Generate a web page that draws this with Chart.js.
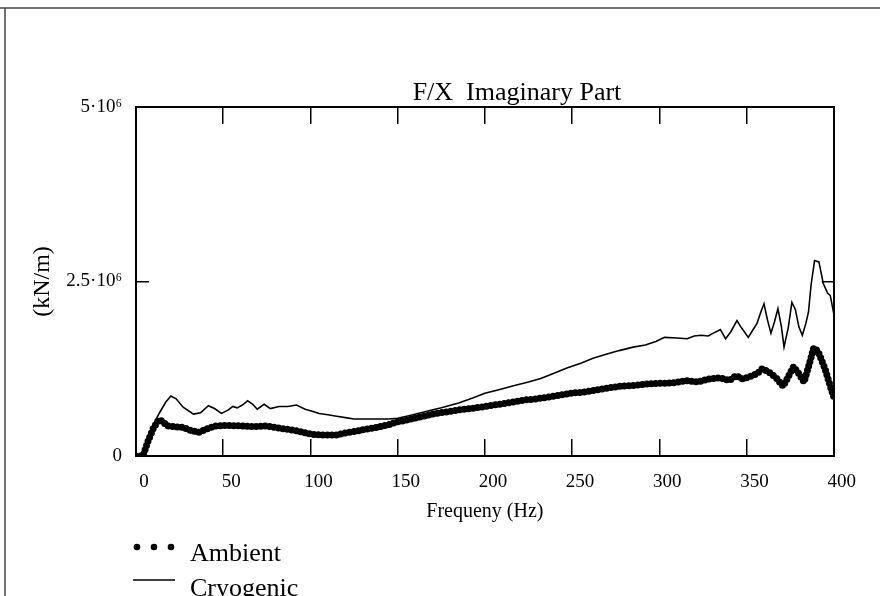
<!DOCTYPE html>
<html><head><meta charset="utf-8">
<script src="https://cdn.jsdelivr.net/npm/chart.js@4/dist/chart.umd.min.js"></script>
<style>html,body{margin:0;padding:0;background:#fff}#wrap{width:880px;height:596px;position:relative}</style>
</head><body><div id="wrap"><canvas id="c" width="880" height="596"></canvas></div>
<script>
const chartTitle = 'F/X  Imaginary Part';
const xAxisTitle = 'Frequeny (Hz)';
const yAxisTitle = '(kN/m)';
const legendLabels = ['Ambient', 'Cryogenic'];
const xTickStep = 50;
const xMin = 0, xMax = 400;
const yTickValues = [0, 2.5, 5];
const yTickLabels = ['0', '2.5·10⁶', '5·10⁶'];

// Ambient (thick dotted curve), values in units of 10^6 kN/m
const ambientFreq = [0, 4, 7, 10, 13, 15, 18, 22, 27, 31, 36, 40, 45, 52, 60, 68, 75, 82, 90, 96, 101, 108, 115, 120, 127, 133, 138, 145, 150, 158, 165, 172, 180, 188, 195, 200, 208, 215, 222, 230, 238, 245, 250, 258, 265, 272, 278, 285, 292, 300, 308, 316, 322, 328, 335, 340, 344, 348, 352, 356, 359, 363, 367, 371, 374, 377, 380, 383, 386, 388.5, 391, 395, 398, 400];
const ambientVal = [0, 0, 0.22, 0.40, 0.52, 0.50, 0.43, 0.42, 0.41, 0.37, 0.34, 0.38, 0.43, 0.44, 0.43, 0.42, 0.43, 0.40, 0.37, 0.34, 0.31, 0.30, 0.30, 0.33, 0.36, 0.39, 0.41, 0.45, 0.49, 0.53, 0.57, 0.61, 0.64, 0.67, 0.69, 0.71, 0.74, 0.77, 0.80, 0.82, 0.85, 0.88, 0.90, 0.92, 0.95, 0.98, 1.00, 1.01, 1.03, 1.04, 1.05, 1.08, 1.06, 1.10, 1.12, 1.08, 1.15, 1.10, 1.14, 1.18, 1.25, 1.20, 1.12, 1.00, 1.14, 1.28, 1.18, 1.06, 1.32, 1.55, 1.50, 1.25, 1.00, 0.85];

// Cryogenic (thin solid curve)
const cryoFreq = [0, 4, 7, 10, 13.5, 17, 20, 23, 27, 33, 37, 41.5, 45, 49, 53, 55.5, 58, 61, 64, 67, 69.5, 73.5, 77, 82, 87, 92, 97, 101, 105, 110, 115, 120, 125, 135, 145, 150, 157, 165, 175, 185, 193, 200, 208, 217, 225, 232, 240, 247, 255, 262, 270, 277, 285, 292, 298, 303, 310, 316, 320, 324, 328, 331, 335, 338, 341, 344.5, 347, 351, 353, 356, 358, 360, 362, 364, 366, 368, 370, 371.5, 374, 376, 378, 380, 382, 384, 385.5, 387, 389, 391.5, 394, 396.5, 398, 400];
const cryoVal = [0, 0, 0.25, 0.45, 0.62, 0.77, 0.86, 0.82, 0.70, 0.60, 0.62, 0.72, 0.68, 0.61, 0.66, 0.71, 0.69, 0.73, 0.79, 0.74, 0.67, 0.74, 0.68, 0.71, 0.71, 0.73, 0.67, 0.64, 0.61, 0.59, 0.57, 0.55, 0.53, 0.53, 0.53, 0.54, 0.58, 0.63, 0.69, 0.76, 0.83, 0.90, 0.95, 1.01, 1.06, 1.11, 1.19, 1.26, 1.33, 1.40, 1.46, 1.51, 1.56, 1.59, 1.64, 1.70, 1.69, 1.68, 1.72, 1.73, 1.72, 1.76, 1.81, 1.68, 1.78, 1.94, 1.84, 1.70, 1.78, 1.90, 2.05, 2.18, 1.95, 1.76, 1.92, 2.11, 1.85, 1.56, 1.85, 2.20, 2.10, 1.85, 1.73, 1.90, 2.06, 2.45, 2.80, 2.78, 2.47, 2.33, 2.30, 2.04];

const SERIF = '"Liberation Serif", "Times New Roman", serif';
const toPoints = (xs, ys) => xs.map((x, i) => ({x: x, y: ys[i]}));
const setYTicks = s => { s.ticks = yTickValues.map(v => ({value: v})); };

const framePlugin = {
  id: 'frame',
  beforeDraw(chart) {
    const c = chart.ctx;
    c.save();
    c.fillStyle = '#fff';
    c.fillRect(0, 0, chart.width, chart.height);
    c.strokeStyle = '#444';
    c.lineWidth = 1.5;
    c.beginPath();
    c.moveTo(0, 8); c.lineTo(880, 8);
    c.moveTo(5, 8); c.lineTo(5, 596);
    c.stroke();
    c.restore();
  },
  afterDraw(chart) {
    const c = chart.ctx;
    c.save();
    c.fillStyle = '#000';
    c.strokeStyle = '#000';
    // title
    c.font = '26px ' + SERIF;
    c.textAlign = 'center';
    c.textBaseline = 'alphabetic';
    c.fillText(chartTitle, 517, 100);
    // legend
    c.textAlign = 'left';
    c.font = '26px ' + SERIF;
    [137, 154, 171].forEach(x => { c.beginPath(); c.arc(x, 547, 3.3, 0, Math.PI * 2); c.fill(); });
    c.fillText(legendLabels[0], 190, 561);
    c.lineWidth = 1.5;
    c.beginPath(); c.moveTo(133, 580); c.lineTo(175, 580); c.stroke();
    c.fillText(legendLabels[1], 190, 596);
    c.restore();
  }
};

const tickGrid = (len) => ({drawOnChartArea: false, drawTicks: true, tickLength: len, color: '#000', lineWidth: 1.5});
const axisBorder = {display: true, color: '#000', width: 2};

new Chart(document.getElementById('c'), {
  type: 'line',
  data: {
    datasets: [
      {label: legendLabels[0], data: toPoints(ambientFreq, ambientVal), borderColor: '#000', borderWidth: 7,
       borderDash: [0, 4.5], borderCapStyle: 'round', borderJoinStyle: 'round', pointRadius: 0, tension: 0, fill: false},
      {label: legendLabels[1], data: toPoints(cryoFreq, cryoVal), borderColor: '#000', borderWidth: 1.6,
       pointRadius: 0, tension: 0, fill: false}
    ]
  },
  options: {
    responsive: false,
    animation: false,
    devicePixelRatio: 1,
    layout: {padding: 0},
    plugins: {legend: {display: false}, title: {display: false}, tooltip: {enabled: false}},
    scales: {
      x: {
        type: 'linear', position: 'bottom', min: xMin, max: xMax,
        ticks: {stepSize: xTickStep, padding: 32, labelOffset: 8, color: '#000', maxRotation: 0, autoSkip: false,
                font: {family: SERIF, size: 19}},
        grid: tickGrid(-17), border: axisBorder,
        title: {display: true, text: xAxisTitle, color: '#000', font: {family: SERIF, size: 20}, padding: {top: 0, bottom: 72}},
        afterFit(s) { s.height = 140; }
      },
      xTop: {
        type: 'linear', position: 'top', min: xMin, max: xMax,
        ticks: {stepSize: xTickStep, display: false},
        grid: tickGrid(-17), border: axisBorder,
        afterFit(s) { s.height = 107; }
      },
      y: {
        type: 'linear', position: 'left', min: 0, max: 5,
        afterBuildTicks: setYTicks,
        ticks: {padding: 27, color: '#000', font: {family: SERIF, size: 19},
                callback: (v) => yTickLabels[yTickValues.indexOf(v)]},
        grid: tickGrid(-13), border: axisBorder,
        title: {display: true, text: yAxisTitle, color: '#000', font: {family: SERIF, size: 24}, padding: {top: 28, bottom: 0}},
        afterFit(s) { s.width = 136; }
      },
      yRight: {
        type: 'linear', position: 'right', min: 0, max: 5,
        afterBuildTicks: setYTicks,
        ticks: {display: false},
        grid: tickGrid(-12), border: axisBorder,
        afterFit(s) { s.width = 30; }
      }
    }
  },
  plugins: [framePlugin]
});
</script>
</body></html>
